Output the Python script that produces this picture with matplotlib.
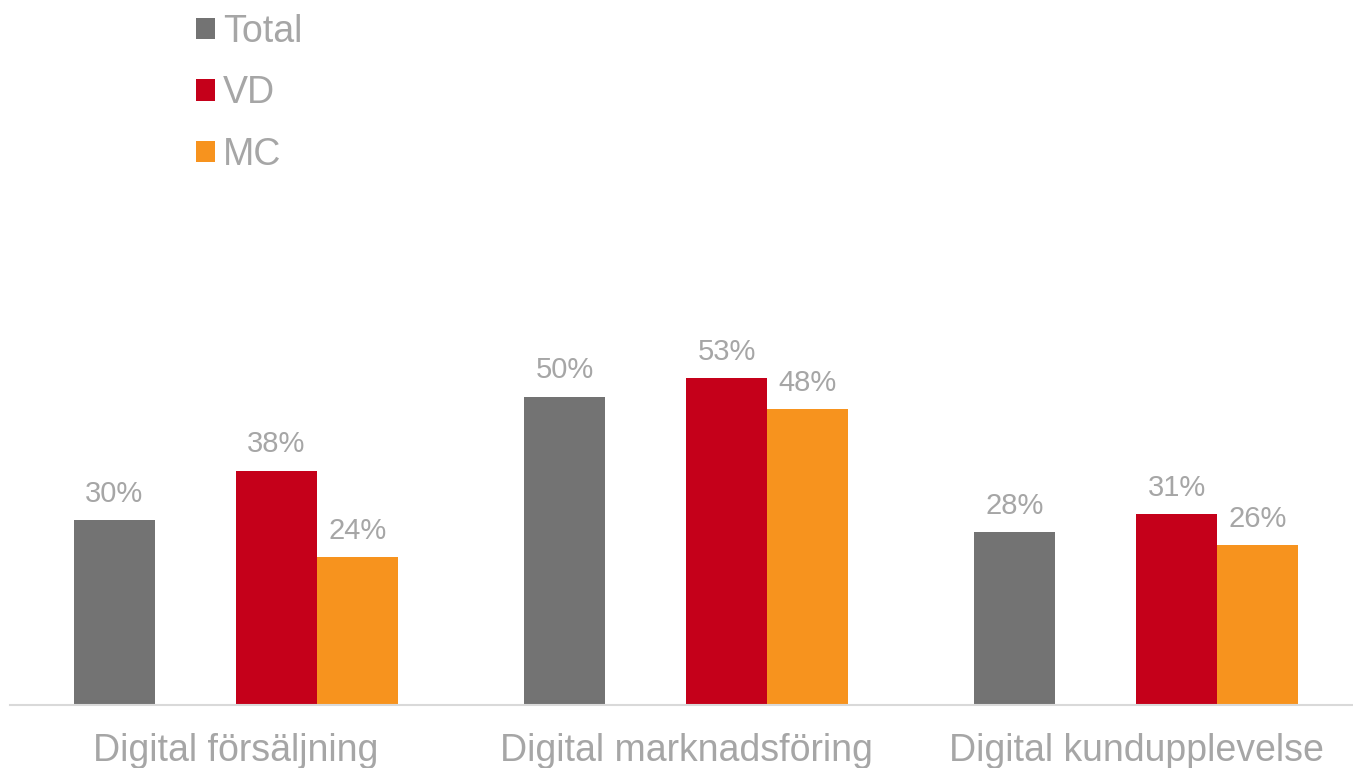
import numpy as np
import matplotlib.pyplot as plt

plt.rcParams['font.family'] = ['Liberation Sans', 'DejaVu Sans']

categories = ["Digital försäljning", "Digital marknadsföring", "Digital kundupplevelse"]
series_names = ["Total", "VD", "MC"]
total = [30, 50, 28]
vd = [38, 53, 31]
mc = [24, 48, 26]

colors = ["#737373", "#c5001a", "#f7931e"]
text_color = "#a6a6a6"

fig = plt.figure(figsize=(13.53, 7.68), dpi=100)
ax = fig.add_axes([10 / 1353, 63 / 768, 1343 / 1353, 617 / 768])

x = np.arange(len(categories))
w = 0.18
# empty slot between Total and the VD/MC pair
offsets = [-1.5 * w, 0.5 * w, 1.5 * w]

for vals, off, col, name in zip([total, vd, mc], offsets, colors, series_names):
    bars = ax.bar(x + off, vals, width=w, color=col, label=name)
    for b, v in zip(bars, vals):
        ax.annotate(f"{v}%", xy=(b.get_x() + b.get_width() / 2, v),
                    xytext=(0, 13), textcoords="offset points",
                    ha="center", va="baseline", fontsize=21, color=text_color)

ax.set_xlim(-0.502, 2.482)
ax.set_ylim(0, 100)

for s in ["top", "right", "left"]:
    ax.spines[s].set_visible(False)
ax.spines["bottom"].set_color("#d9d9d9")
ax.spines["bottom"].set_linewidth(1.5)
ax.set_yticks([])
ax.set_xticks([])

for i, cat in enumerate(categories):
    ax.annotate(cat, xy=(i, 0), xycoords=("data", "axes fraction"),
                xytext=(0, -40), textcoords="offset points",
                ha="center", va="baseline", fontsize=27, color=text_color)

fig.legend(loc="upper left", bbox_to_anchor=(177 / 1353, 1 + 5 / 768),
           frameon=False, fontsize=27, labelcolor=text_color,
           handlelength=0.5, handleheight=0.5, handletextpad=0.22,
           labelspacing=0.68, borderpad=0)

fig.savefig("out.png", dpi=100)
